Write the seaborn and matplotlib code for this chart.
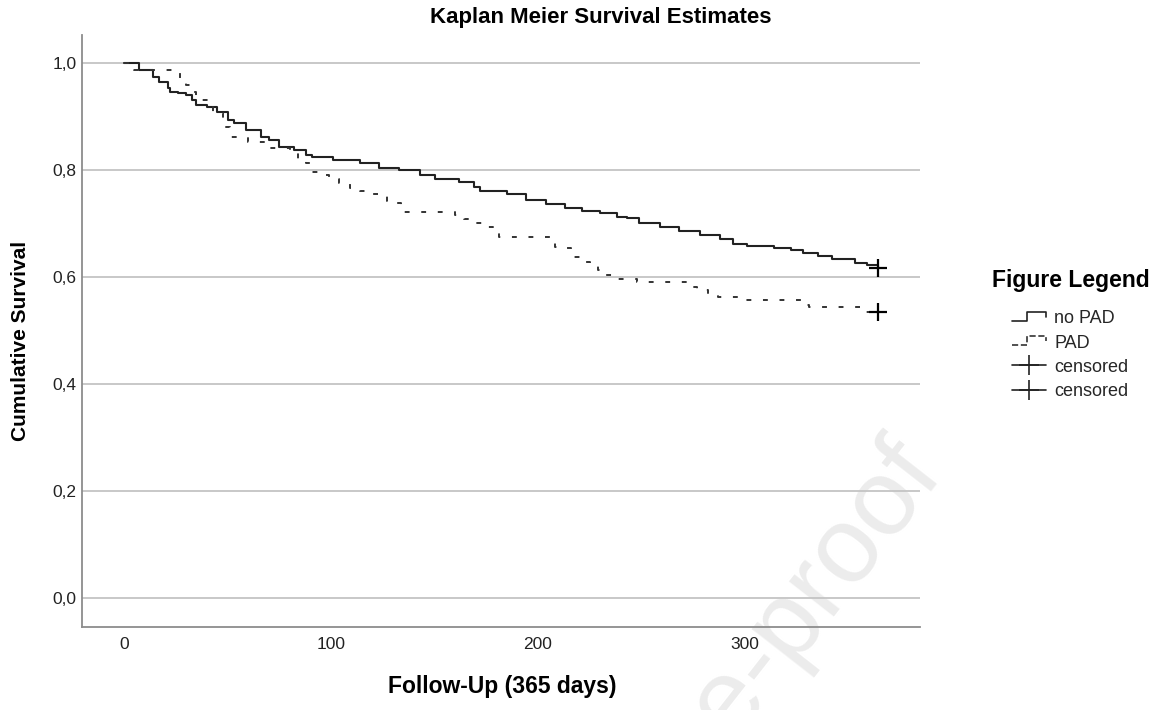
import matplotlib
matplotlib.use("Agg")
import matplotlib.pyplot as plt
from matplotlib.lines import Line2D
from matplotlib.legend_handler import HandlerBase
import seaborn as sns

# ── DATA ─────────────────────────────────────────────────────────────────────
NOPAD_DAYS = [0, 7, 14, 17, 21, 22, 26, 30, 33, 35, 40, 45, 50, 53, 59, 66,
              70, 75, 82, 88, 91, 101, 114, 123, 133, 143, 150, 162, 169, 172,
              185, 194, 204, 213, 221, 230, 238, 243, 249, 259, 268, 278, 288,
              294, 301, 314, 322, 328, 335, 342, 353, 359, 364]
NOPAD_SURV = [1.0, 0.987, 0.974, 0.964, 0.953, 0.946, 0.944, 0.940, 0.931,
              0.921, 0.918, 0.908, 0.893, 0.888, 0.875, 0.862, 0.856, 0.843,
              0.837, 0.828, 0.824, 0.819, 0.813, 0.804, 0.800, 0.791, 0.783,
              0.778, 0.768, 0.761, 0.755, 0.744, 0.736, 0.729, 0.723, 0.720,
              0.712, 0.710, 0.700, 0.693, 0.686, 0.678, 0.671, 0.662, 0.658,
              0.654, 0.650, 0.645, 0.639, 0.634, 0.626, 0.622, 0.617]

PAD_DAYS = [0, 5, 27, 30, 33, 35, 43, 48, 51, 60, 69, 80, 84, 88, 91, 95, 99,
            104, 109, 114, 119, 123, 127, 132, 134, 160, 164, 168, 173, 178,
            181, 208, 213, 216, 221, 225, 229, 232, 237, 248, 272, 277, 282,
            287, 297, 327, 331, 356, 364]
PAD_SURV = [1.0, 0.987, 0.972, 0.959, 0.946, 0.931, 0.906, 0.880, 0.862,
            0.852, 0.841, 0.834, 0.819, 0.813, 0.796, 0.790, 0.783, 0.776,
            0.766, 0.761, 0.755, 0.751, 0.742, 0.738, 0.721, 0.716, 0.708,
            0.700, 0.693, 0.690, 0.675, 0.656, 0.654, 0.637, 0.628, 0.622,
            0.613, 0.604, 0.596, 0.591, 0.581, 0.576, 0.568, 0.563, 0.557,
            0.548, 0.544, 0.535, 0.535]

CENSOR_DAY = [364, 364]
CENSOR_SURV = [0.617, 0.535]

Y_TICKS = [0.0, 0.2, 0.4, 0.6, 0.8, 1.0]
Y_LABELS = ["0,0", "0,2", "0,4", "0,6", "0,8", "1,0"]
X_TICKS = [0, 100, 200, 300]

GRID = "#c4c4c4"; AXIS = "#8c8c8c"; INK = "#222222"

sns.set_style("white")
plt.rcParams["font.family"] = ["Liberation Sans", "DejaVu Sans"]


class StepHandler(HandlerBase):
    """Little step icon as SPSS draws it in the legend."""
    def create_artists(self, legend, orig_handle, xdescent, ydescent,
                       width, height, fontsize, trans):
        xs = [0, 0.45 * width, 0.45 * width, width, width]
        ys = [0.2 * height, 0.2 * height, 0.85 * height, 0.85 * height, 0.5 * height]
        ln = Line2D([x - xdescent for x in xs], [y - ydescent for y in ys],
                    color=orig_handle.get_color(), lw=orig_handle.get_linewidth(),
                    linestyle=orig_handle.get_linestyle(), transform=trans)
        return [ln]


fig = plt.figure(figsize=(11.6, 7.1), dpi=100)
ax = fig.add_axes([0.0707, 0.1169, 0.7224, 0.8338])

# watermark (behind everything)
fig.text(0.762, 0.398, "Journal Pre-proof", fontsize=78, color="#ececec",
         rotation=52, ha="right", va="top", rotation_mode="anchor", zorder=-1)
ax.patch.set_alpha(0)

for y in Y_TICKS:
    ax.axhline(y, color=GRID, lw=1.3, zorder=1)

sns.lineplot(x=NOPAD_DAYS, y=NOPAD_SURV, ax=ax, color=INK, lw=1.5,
             drawstyle="steps-post", zorder=3)
sns.lineplot(x=PAD_DAYS, y=PAD_SURV, ax=ax, color="#333333", lw=1.4,
             drawstyle="steps-post", linestyle=(0, (2.5, 6)), zorder=3)
sns.scatterplot(x=CENSOR_DAY, y=CENSOR_SURV, ax=ax, marker="+", s=150,
                color="black", linewidth=1.6, zorder=4)

ax.set_xlim(-20.3, 384.5)
ax.set_ylim(-0.054, 1.052)
ax.set_xticks(X_TICKS)
ax.set_yticks(Y_TICKS)
ax.set_yticklabels(Y_LABELS)
ax.tick_params(axis="both", length=0, labelsize=12.5, colors=INK)
ax.tick_params(axis="y", pad=4)
ax.tick_params(axis="x", pad=7)
for s in ["top", "right"]:
    ax.spines[s].set_visible(False)
for s in ["left", "bottom"]:
    ax.spines[s].set_color(AXIS)
    ax.spines[s].set_linewidth(1.3)

fig.text(0.5175, 1 - 17 / 710, "Kaplan Meier Survival Estimates", fontsize=16,
         fontweight="bold", ha="center", va="center", color="black")
fig.text(502 / 1160, 1 - 687 / 710, "Follow-Up (365 days)", fontsize=16.5,
         fontweight="bold", ha="center", va="center", color="black")
fig.text(20.5 / 1160, 1 - 341 / 710, "Cumulative Survival", fontsize=15,
         fontweight="bold", ha="center", va="center", rotation=90, color="black")

# legend
fig.text(992 / 1160, 1 - 281 / 710, "Figure Legend", fontsize=16.5,
         fontweight="bold", ha="left", va="center", color="black")
h_nopad = Line2D([], [], color=INK, lw=1.2)
h_pad = Line2D([], [], color="#333333", lw=1.2, linestyle=(0, (2, 3)))
h_cens = Line2D([], [], color=INK, lw=1.2, marker="+", markersize=15,
                markeredgewidth=1.2)
fig.legend([h_nopad, h_pad, h_cens, h_cens],
           ["no PAD", "PAD", "censored", "censored"],
           handler_map={h_nopad: StepHandler(), h_pad: StepHandler()},
           loc="upper left", bbox_to_anchor=(1012 / 1160, 1 - 310 / 710),
           frameon=False, fontsize=13, handlelength=1.9, handleheight=0.8,
           handletextpad=0.45, labelspacing=0.4, borderpad=0, borderaxespad=0)

fig.savefig("out.png", dpi=100)
